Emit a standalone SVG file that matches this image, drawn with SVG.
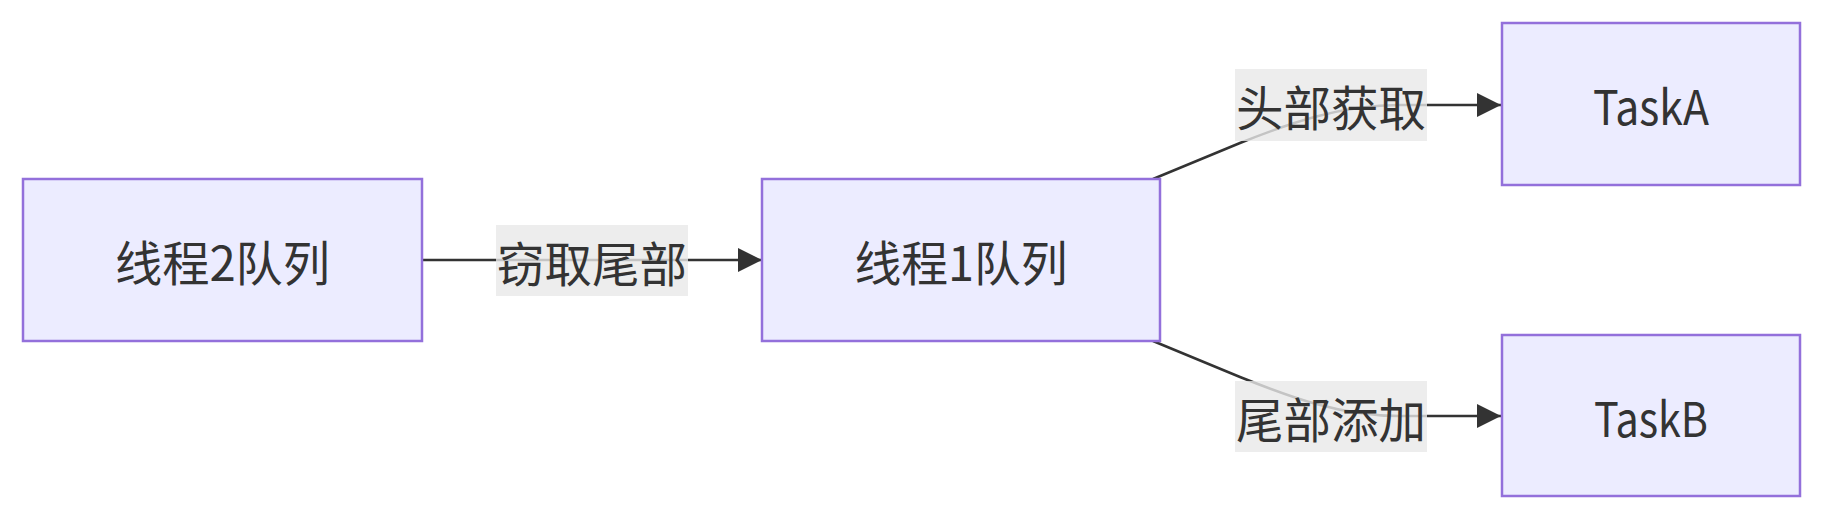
<svg xmlns="http://www.w3.org/2000/svg" width="1825" height="522" viewBox="0 0 1825 522">
<style>
.node rect{fill:#ECECFF;stroke:#9370DB;stroke-width:2.5px;}
.node text{fill:#333;font-family:"Noto Sans CJK SC","Liberation Sans",sans-serif;font-size:48px;text-anchor:middle;dominant-baseline:central;}
.edge{fill:none;stroke:#333;stroke-width:2.5px;}
.lbl rect{fill:#e8e8e8;opacity:0.8;}
.lbl text{fill:#333;font-family:"Noto Sans CJK SC",sans-serif;font-size:48px;text-anchor:middle;dominant-baseline:central;}
</style>
<defs>
<marker id="arrow" viewBox="0 0 10 10" refX="10" refY="5" markerUnits="userSpaceOnUse" markerWidth="24" markerHeight="24" orient="auto">
<path d="M0,0 L10,5 L0,10 z" fill="#333"/>
</marker>
</defs>
<g id="connectors">
<path class="edge" d="M422,260 L762,260" marker-end="url(#arrow)"/>
<path class="edge" d="M1153,179 L1240,143 C1290,123 1340,105 1400,105 L1501,105" marker-end="url(#arrow)"/>
<path class="edge" d="M1153,341 L1240,377 C1290,397 1340,416 1400,416 L1501,416" marker-end="url(#arrow)"/>
</g>
<g id="edge-labels">
<g class="lbl"><rect x="496" y="225" width="192" height="71"/><text x="592" y="260.5" textLength="190" lengthAdjust="spacingAndGlyphs">窃取尾部</text></g>
<g class="lbl"><rect x="1235" y="69" width="192" height="72"/><text x="1331" y="105" textLength="190" lengthAdjust="spacingAndGlyphs">头部获取</text></g>
<g class="lbl"><rect x="1235" y="381" width="192" height="71"/><text x="1331" y="416.5" textLength="190" lengthAdjust="spacingAndGlyphs">尾部添加</text></g>
</g>
<g id="node-thread2" class="node"><rect x="23" y="179" width="399" height="162"/><text x="222.5" y="260" textLength="215" lengthAdjust="spacingAndGlyphs">线程2队列</text></g>
<g id="node-thread1" class="node"><rect x="762" y="179" width="398" height="162"/><text x="961" y="260" textLength="213" lengthAdjust="spacingAndGlyphs">线程1队列</text></g>
<g id="node-taskA" class="node"><rect x="1502" y="23" width="298" height="162"/><text x="1651" y="104" textLength="116" lengthAdjust="spacingAndGlyphs">TaskA</text></g>
<g id="node-taskB" class="node"><rect x="1502" y="335" width="298" height="161"/><text x="1651" y="416" textLength="114" lengthAdjust="spacingAndGlyphs">TaskB</text></g>
</svg>
